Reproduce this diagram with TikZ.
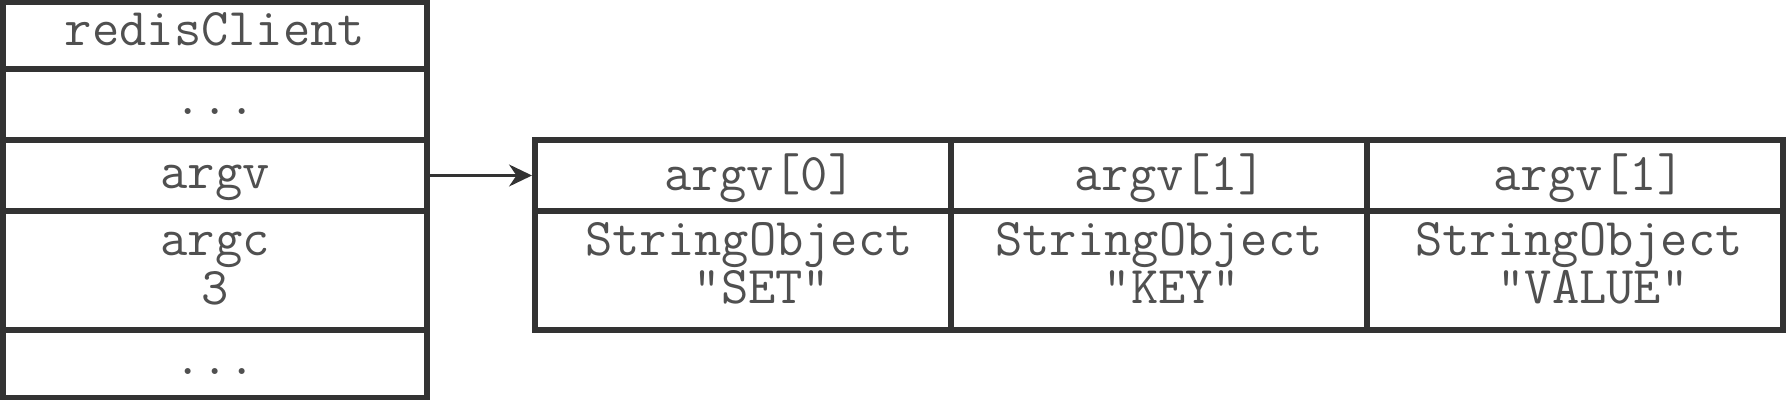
\documentclass[tikz,border=0pt]{standalone}
\usepackage{fontspec}
\usetikzlibrary{arrows.meta}
\definecolor{linec}{HTML}{333333}
\definecolor{textc}{HTML}{505050}
\begin{document}
\begin{tikzpicture}[x=0.5pt,y=-0.5pt,
  cell/.style n args={2}{draw=linec, line width=2.75pt, rectangle, inner sep=0pt, outer sep=0pt, minimum width=#1, minimum height=#2},
  txt/.style={font=\ttfamily\fontsize{26.5}{27}\selectfont, text=textc, anchor=base, inner sep=0pt},
  link/.style={draw=linec, line width=1.2pt, -{Stealth[length=11.5pt,width=11pt]}, shorten >=1.5pt}]
\useasboundingbox (0,0) rectangle (1790,400);
% left column (redisClient)
\node[cell={212pt}{33.5pt}] (rc) at (215,35.5) {};
\node[cell={212pt}{35.5pt}] (d1) at (215,104.5) {};
\node[cell={212pt}{35.5pt}] (av) at (215,175.5) {};
\node[cell={212pt}{59.5pt}] (ac) at (215,270.5) {};
\node[cell={212pt}{34pt}] (d2) at (215,364) {};
\node[txt] (trc) at (215,46) {redisClient};
\node[txt] (td1) at (215,115) {...};
\node[txt] (tav) at (215,189) {argv};
\node[txt] (tac) at (215,256) {argc};
\node[txt] (tac3) at (215,305) {3};
\node[txt] (td2) at (215,375) {...};
% argv array
\node[cell={208pt}{35.5pt}] (h0) at (743,175.5) {};
\node[cell={208pt}{35.5pt}] (h1) at (1159,175.5) {};
\node[cell={208pt}{35.5pt}] (h2) at (1575,175.5) {};
\node[cell={208pt}{59.5pt}] (b0) at (743,270.5) {};
\node[cell={208pt}{59.5pt}] (b1) at (1159,270.5) {};
\node[cell={208pt}{59.5pt}] (b2) at (1575,270.5) {};
\node[txt] (th0) at (760,191) {argv[0]};
\node[txt] (th1) at (1170,191) {argv[1]};
\node[txt] (th2) at (1589,191) {argv[1]};
\node[txt] (ts0) at (749,256) {StringObject};
\node[txt] (ts1) at (1159,256) {StringObject};
\node[txt] (ts2) at (1579,256) {StringObject};
\node[txt] (tv0) at (762,304) {"SET"};
\node[txt] (tv1) at (1172,304) {"KEY"};
\node[txt] (tv2) at (1593,304) {"VALUE"};
% pointer
\draw[link] (av.east) -- (h0.west);
\end{tikzpicture}
\end{document}
